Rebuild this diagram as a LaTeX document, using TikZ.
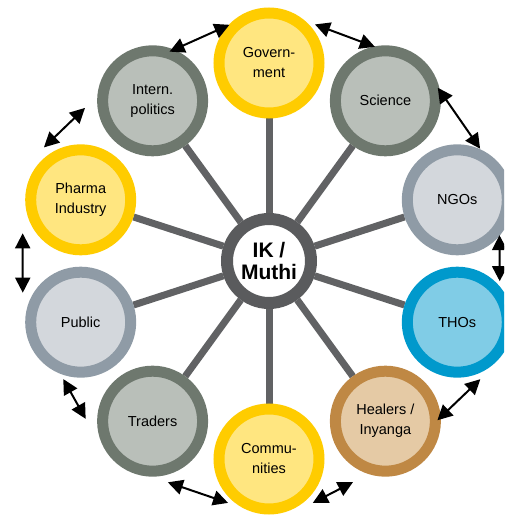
\documentclass[tikz,border=0pt]{standalone}
\usepackage{fontspec}
\setmainfont{Liberation Sans}
\usetikzlibrary{arrows.meta,calc,backgrounds}

\definecolor{goldring}{HTML}{FFCC00}
\definecolor{goldfill}{HTML}{FFE680}
\definecolor{slatering}{HTML}{6E786E}
\definecolor{slatefill}{HTML}{B9BFB9}
\definecolor{steelring}{HTML}{8F9BA6}
\definecolor{steelfill}{HTML}{D3D7DC}
\definecolor{bluering}{HTML}{0099CC}
\definecolor{bluefill}{HTML}{80CCE6}
\definecolor{brownring}{HTML}{BF8844}
\definecolor{brownfill}{HTML}{E5CAA5}
\definecolor{hubring}{HTML}{5A5B5D}
\definecolor{spokegrey}{HTML}{616264}

\begin{document}
\begin{tikzpicture}[
    x=1pt, y=1pt,
    actor/.style={circle, draw, line width=11pt, minimum size=100pt, inner sep=0pt, align=center, font=\fontsize{14.5}{20}\selectfont},
    goldcirc/.style={actor, draw=goldring, fill=goldfill},
    slatecirc/.style={actor, draw=slatering, fill=slatefill},
    steelcirc/.style={actor, draw=steelring, fill=steelfill},
    bluecirc/.style={actor, draw=bluering, fill=bluefill},
    browncirc/.style={actor, draw=brownring, fill=brownfill},
    hub/.style={circle, draw=hubring, fill=white, line width=12pt, minimum size=84pt, inner sep=0pt, align=center, font=\fontsize{21}{22}\selectfont\bfseries},
    spoke/.style={draw=spokegrey, line width=7pt},
    link/.style={<->, >={Triangle[length=15pt,width=15pt]}, line width=2pt}
]

\useasboundingbox (-269,-255) rectangle (235,261);
\clip (-269,-255) rectangle (235,261);

% IK / Muthi in the middle
\node[hub] (hub) at (0,0) {IK /\\Muthi};

% Groups round it
\node[goldcirc] (gov) at (90:198pt) {Govern-\\ment};
\node[slatecirc] (sci) at (54:198pt) {Science};
\node[steelcirc] (ngo) at (18:198pt) {NGOs};
\node[bluecirc] (tho) at (-18:198pt) {THOs};
\node[browncirc] (heal) at (-54:198pt) {Healers /\\Inyanga};
\node[goldcirc] (comm) at (-90:198pt) {Commu-\\nities};
\node[slatecirc] (trad) at (-126:198pt) {Traders};
\node[steelcirc] (pub) at (-162:198pt) {Public};
\node[goldcirc] (pharma) at (162:198pt) {Pharma\\Industry};
\node[slatecirc] (intern) at (126:198pt) {Intern.\\politics};

% Spokes
\begin{scope}[on background layer]
\draw[spoke] (hub) -- (gov);
\draw[spoke] (hub) -- (sci);
\draw[spoke] (hub) -- (ngo);
\draw[spoke] (hub) -- (tho);
\draw[spoke] (hub) -- (heal);
\draw[spoke] (hub) -- (comm);
\draw[spoke] (hub) -- (trad);
\draw[spoke] (hub) -- (pub);
\draw[spoke] (hub) -- (pharma);
\draw[spoke] (hub) -- (intern);
\end{scope}

% Arrows between neighbours
\draw[link] ($(intern)+(71:52pt)$) -- ($(gov)+(136:55pt)$);
\draw[link] ($(gov)+(40:60pt)$) -- ($(sci)+(101:55pt)$);
\draw[link] ($(sci)+(14:54pt)$) -- ($(ngo)+(66:56pt)$);
\draw[link] ($(ngo)+(320:55pt)$) -- ($(tho)+(44:59pt)$);
\draw[link] ($(heal)+(1:52pt)$) -- ($(tho)+(292:61.5pt)$);
\draw[link] ($(comm)+(315:62pt)$) -- ($(heal)+(242:69pt)$);
\draw[link] ($(trad)+(284:63pt)$) -- ($(comm)+(227:60pt)$);
\draw[link] ($(pub)+(253:59.5pt)$) -- ($(trad)+(178:67pt)$);
\draw[link] ($(pharma)+(210:67pt)$) -- ($(pub)+(153:65pt)$);
\draw[link] ($(pharma)+(125:64pt)$) -- ($(intern)+(186:68pt)$);

\end{tikzpicture}
\end{document}
